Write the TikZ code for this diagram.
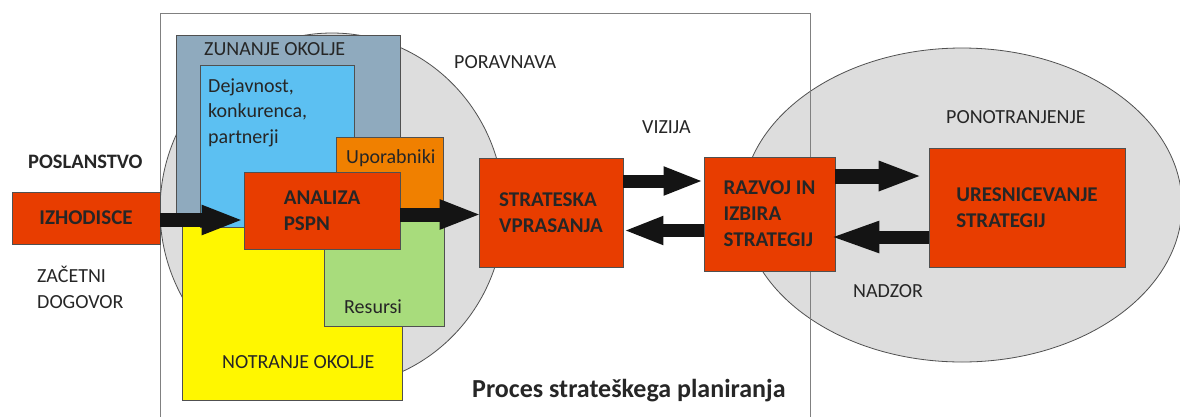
\documentclass[tikz,border=0pt]{standalone}
\usepackage{fontspec}
\setmainfont{Carlito}
\usetikzlibrary{arrows.meta}
\definecolor{boxred}{RGB}{232,61,0}
\definecolor{outorange}{RGB}{240,128,0}
\definecolor{envblue}{RGB}{143,170,190}
\definecolor{actblue}{RGB}{92,192,242}
\definecolor{inyellow}{RGB}{255,247,0}
\definecolor{resgreen}{RGB}{168,220,124}
\definecolor{zone}{RGB}{221,221,221}
\definecolor{edge}{RGB}{80,80,80}
\definecolor{ink}{RGB}{38,38,38}
\definecolor{arrowink}{RGB}{20,20,20}
\begin{document}
\begin{tikzpicture}[x=1pt,y=-1pt,
  region/.style={draw=edge, line width=0.8pt, anchor=north west, inner sep=0pt, outer sep=0pt},
  redbox/.style={draw=edge, line width=0.8pt, fill=boxred, align=left, inner sep=0pt,
    font=\fontsize{21}{26}\selectfont\bfseries, text=ink},
  lbl/.style={anchor=base west, inner sep=0pt, text=ink, font=\fontsize{20}{25.5}\selectfont, align=left},
  boldlbl/.style={lbl, font=\fontsize{20.5}{25}\selectfont\bfseries},
  bigarrow/.style={draw=arrowink, line width=14pt, -{Triangle[length=42pt,width=27pt]}, color=arrowink}]
\useasboundingbox (0,0) rectangle (1180,416);
\fill[white] (0,0) rectangle (1180,416);
\begin{scope}
\clip (0,0) rectangle (1180,416);
% implementation zone on the right
\path[fill=zone, draw=edge, line width=0.8pt] (962,205) ellipse [x radius=220, y radius=157];
% frame of the planning process
\draw[gray, line width=1pt] (160,430) -- (160,13) -- (810,13) -- (810,430);
% alignment zone on the left
\path[fill=zone, draw=edge, line width=0.8pt] (332,210) ellipse [x radius=172, y radius=177];
\end{scope}

% environment regions
\node[region, fill=envblue, minimum width=224pt, minimum height=190pt] (zun) at (176,35) {};
\node[region, fill=inyellow, minimum width=220pt, minimum height=175pt] (notr) at (182,225) {};
\node[region, fill=actblue, minimum width=154pt, minimum height=162pt] (dej) at (200,65) {};
\node[region, fill=outorange, minimum width=107pt, minimum height=78pt] (upor) at (336,137) {};
\node[region, fill=resgreen, minimum width=120pt, minimum height=111pt] (res) at (324,215) {};

% process steps
\node[redbox, minimum width=148pt, minimum height=52pt] (izh) at (86,218) {IZHODISCE};
\node[redbox, minimum width=156pt, minimum height=77pt] (ana) at (322,210.5) {ANALIZA\\PSPN};
\node[redbox, minimum width=144pt, minimum height=109pt] (strat) at (551,212.5) {STRATESKA\\VPRASANJA};
\node[redbox, minimum width=131pt, minimum height=114pt] (razv) at (769.5,214) {RAZVOJ IN\\IZBIRA\\STRATEGIJ};
\node[redbox, minimum width=196pt, minimum height=119pt] (uresn) at (1027,207.5) {URESNICEVANJE\\STRATEGIJ};

% flow arrows
\draw[bigarrow] (izh.east |- 0,220) -- (ana.west |- 0,220);
\draw[bigarrow] (ana.east |- 0,214.5) -- ([xshift=3pt]strat.west |- 0,214.5);
\draw[bigarrow, line width=13pt, -{Triangle[length=40pt,width=26pt]}] (strat.east |- 0,181) -- (razv.west |- 0,181);
\draw[bigarrow, line width=13pt, -{Triangle[length=40pt,width=26pt]}] (razv.west |- 0,230.5) -- (strat.east |- 0,230.5);
\draw[bigarrow, line width=15pt, -{Triangle[length=44pt,width=27pt]}] (razv.east |- 0,176) -- ([xshift=-6pt]uresn.west |- 0,176);
\draw[bigarrow, line width=13pt, -{Triangle[length=51pt,width=28pt]}] (uresn.west |- 0,237) -- ([xshift=-7pt]razv.east |- 0,237);

% labels (multi-line labels are placed by the baseline of their last line)
\node[lbl] (tzun) at (204,55) {ZUNANJE OKOLJE};
\node[lbl] (tdej) at (208,143) {Dejavnost,\\konkurenca,\\partnerji};
\node[lbl] (tupor) at (346,163) {Uporabniki};
\node[lbl] (tres) at (344,313) {Resursi};
\node[lbl] (tnotr) at (222,368) {NOTRANJE OKOLJE};
\node[boldlbl] (tposl) at (28,168) {POSLANSTVO};
\node[lbl, font=\fontsize{20}{26}\selectfont] (tzac) at (37,308) {ZAČETNI\\DOGOVOR};
\node[lbl] (tporav) at (454,68) {PORAVNAVA};
\node[lbl] (tviz) at (642,133) {VIZIJA};
\node[lbl] (tponot) at (946,123) {PONOTRANJENJE};
\node[lbl] (tnadz) at (853,297) {NADZOR};
\node[lbl, font=\fontsize{26}{30}\selectfont\bfseries] (tproc) at (472,397) {Proces strateškega planiranja};
\end{tikzpicture}
\end{document}
